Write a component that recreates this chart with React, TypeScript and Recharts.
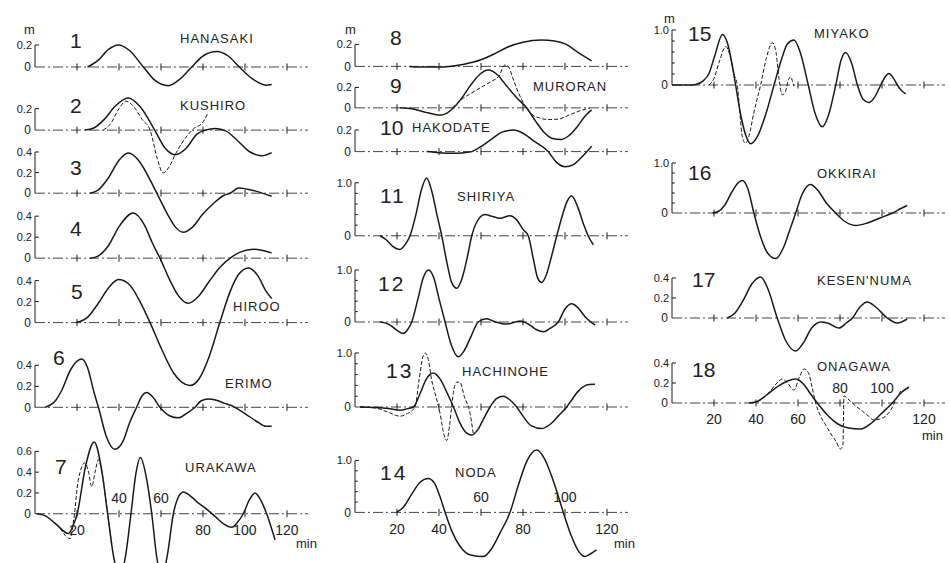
import React from 'react'
import { LineChart, Line, XAxis, YAxis, ReferenceLine } from 'recharts'

type Pt = [number, number] // [min, m]

// tide gauge traces: [time in min, height in m]
const hanasaki: Pt[] = [[25, 0], [30, 0.06], [35, 0.16], [39.7, 0.2], [45, 0.15], [51.6, 0], [57, -0.12], [63.5, -0.17], [69, -0.11], [74.6, 0], [80, 0.1], [86.5, 0.14], [92, 0.1], [97.3, 0], [103, -0.1], [110, -0.165], [112.7, -0.16]]
const kushiro: Pt[] = [[23.8, 0], [28, 0.02], [33, 0.1], [38, 0.22], [44.4, 0.3], [50, 0.22], [57, 0], [62, -0.17], [66.7, -0.23], [72, -0.17], [77, -0.04], [81, 0], [86, 0.015], [91, -0.01], [96, -0.09], [102, -0.2], [108, -0.24], [112.7, -0.21]]
const kushiroB: Pt[] = [[32.5, 0], [36, 0.06], [40, 0.2], [43.3, 0.27], [47, 0.22], [51, 0.1], [54.8, 0], [58, -0.25], [61, -0.4], [64, -0.34], [67, -0.22], [70, -0.12], [73, -0.04], [76, 0.02], [79.4, 0.06], [82.4, 0.16]]
const st3: Pt[] = [[26.2, 0], [30, 0.03], [35, 0.15], [40, 0.32], [44.4, 0.39], [50, 0.3], [54, 0.16], [58, 0], [63, -0.2], [66.5, -0.32], [70.6, -0.38], [75, -0.33], [80, -0.2], [85, -0.1], [90, -0.02], [92.9, 0], [97, 0.05], [105, 0.02], [112.7, -0.03]]
const st4: Pt[] = [[26.2, 0], [30, 0.02], [35, 0.12], [40, 0.3], [46.8, 0.43], [52, 0.32], [56, 0.14], [59.5, 0], [64, -0.2], [68, -0.35], [73, -0.43], [78, -0.36], [83, -0.22], [88, -0.09], [92.9, 0], [98, 0.06], [104, 0.085], [108, 0.075], [112.7, 0.05]]
const hiroo: Pt[] = [[19.8, 0], [25, 0.05], [30, 0.18], [35, 0.33], [39.7, 0.41], [45, 0.36], [50, 0.2], [54.8, 0], [60, -0.24], [66, -0.48], [70, -0.57], [73.8, -0.6], [78, -0.54], [83, -0.32], [88, 0], [93, 0.3], [97, 0.46], [101.6, 0.52], [106, 0.45], [110, 0.3], [112.7, 0.23]]
const erimo: Pt[] = [[4.8, 0], [10, 0.07], [12.7, 0.16], [17, 0.36], [22.2, 0.46], [25, 0.38], [28, 0.15], [30.2, 0], [34, -0.28], [38, -0.4], [42, -0.32], [45, -0.15], [48.4, 0], [51, 0.11], [53.2, 0.14], [56, 0.1], [59.5, 0], [64, -0.08], [68.2, -0.1], [72, -0.06], [76.2, 0], [79, 0.06], [82.5, 0.08], [86, 0.07], [90, 0.04], [95.2, 0], [100, -0.06], [106, -0.14], [110, -0.18], [112.7, -0.18]]
const urakawa: Pt[] = [[0.8, 0], [5, -0.02], [10, -0.1], [15.9, -0.19], [18, -0.12], [20.1, 0], [24, 0.45], [28.2, 0.69], [31.5, 0.45], [34.6, 0], [37.5, -0.42], [40.2, -0.6], [43, -0.42], [45.7, 0], [48, 0.38], [50.2, 0.54], [53, 0.35], [55.6, 0], [58, -0.42], [60.5, -0.6], [63, -0.4], [65.9, 0], [68.5, 0.17], [70.8, 0.21], [74, 0.17], [78, 0.1], [82, 0.04], [86, -0.03], [90, -0.1], [93.7, -0.13], [96.5, -0.08], [99.2, 0], [102, 0.13], [104.8, 0.2], [107.5, 0.13], [110.3, 0], [114.3, -0.25]]
const urakawaB: Pt[] = [[12, -0.14], [14.5, -0.21], [16.7, -0.24], [18.5, -0.05], [20.6, 0.32], [23.8, 0.49], [25.5, 0.4], [27, 0.26], [28.6, 0.4], [30.2, 0.52], [32, 0.38], [34.9, -0.05], [36.5, -0.3]]

const st8: Pt[] = [[26, 0], [30, -0.005], [40, -0.005], [45, 0], [52, 0.02], [60, 0.06], [66, 0.11], [72, 0.17], [80, 0.22], [88.7, 0.24], [95, 0.23], [100.6, 0.2], [106, 0.13], [112.7, 0.05]]
const muroran: Pt[] = [[21.4, 0], [27, -0.01], [33, -0.04], [38, -0.065], [41.3, -0.07], [44, -0.05], [46.9, 0], [51, 0.1], [55, 0.22], [59, 0.32], [63.5, 0.37], [68, 0.32], [72, 0.22], [77, 0.1], [81.7, 0], [86, -0.13], [90, -0.24], [94, -0.3], [98.4, -0.31], [102, -0.27], [106, -0.18], [110, -0.07], [112.7, -0.02]]
const muroranB: Pt[] = [[46.5, 0], [50, 0.07], [55, 0.14], [60, 0.2], [65, 0.26], [68.5, 0.31], [71.4, 0.42], [73.2, 0.4], [75, 0.3], [78, 0.14], [81, 0.02], [84, -0.06], [88, -0.1], [92, -0.115], [97, -0.11], [102, -0.07], [107, -0.03], [112, 0]]
const hakodate: Pt[] = [[34.1, 0], [40, -0.01], [46.8, -0.015], [52, -0.01], [55.6, 0], [61, 0.06], [66, 0.13], [70, 0.18], [75.4, 0.2], [80, 0.17], [85, 0.1], [92, 0], [96, -0.1], [100, -0.14], [104, -0.12], [108, -0.05], [112.7, 0.05]]
const shiriya: Pt[] = [[11.9, 0], [15, -0.08], [18, -0.2], [21.4, -0.26], [24, -0.16], [26.2, 0], [29, 0.4], [31.5, 0.85], [34.1, 1.09], [36.5, 0.85], [39, 0.4], [41.3, 0], [44, -0.55], [46, -0.88], [48.4, -0.99], [51, -0.8], [53.5, -0.4], [55.6, 0], [58, 0.26], [61.9, 0.4], [65, 0.37], [69, 0.33], [73.8, 0.38], [77, 0.3], [80, 0.12], [82.5, 0], [85, -0.45], [87, -0.8], [88.9, -0.88], [91, -0.75], [93.5, -0.4], [96.1, 0], [98.5, 0.35], [101, 0.65], [103.2, 0.75], [106, 0.55], [109, 0.2], [111, 0], [113.5, -0.17]]
const st12: Pt[] = [[11.9, 0], [16, -0.04], [20, -0.16], [23, -0.22], [25, -0.15], [27, 0], [30, 0.45], [32.5, 0.85], [35, 1.0], [37.5, 0.85], [40, 0.45], [42.9, 0], [45.5, -0.4], [49.2, -0.67], [52, -0.55], [55, -0.3], [58.7, 0], [62.7, 0.06], [67, 0], [72.2, -0.04], [78.6, 0.02], [83, -0.05], [86.5, -0.15], [89.7, -0.19], [93, -0.12], [96.8, 0], [100, 0.25], [103.2, 0.35], [106, 0.28], [110, 0.08], [114.3, -0.06]]
const hachinohe: Pt[] = [[2.4, 0], [10, -0.01], [16, -0.03], [21.4, -0.06], [25, -0.03], [27.8, 0], [31, 0.25], [34, 0.52], [37.3, 0.63], [40.5, 0.52], [44, 0.25], [46.9, 0], [50, -0.3], [53, -0.48], [55.6, -0.52], [58.5, -0.42], [61.5, -0.2], [64.3, 0], [67.5, 0.16], [70.6, 0.2], [73.8, 0.13], [77, 0], [80, -0.17], [84, -0.35], [88.9, -0.4], [93, -0.32], [97, -0.16], [100.8, 0], [103, 0.12], [106, 0.28], [109, 0.38], [111.5, 0.415], [114.3, 0.42]]
const hachinoheB: Pt[] = [[2.4, 0], [10, -0.02], [16, -0.1], [21.4, -0.17], [25, -0.12], [28.6, 0], [30.5, 0.5], [32.5, 0.95], [33.5, 1.0], [34.8, 0.9], [36.5, 0.5], [38.5, 0.2], [40.5, -0.12], [42.3, -0.5], [43.7, -0.62], [45, -0.35], [46, 0], [47, 0.3], [48.4, 0.46], [50, 0.46], [52, 0.2], [54.8, -0.12], [56.3, -0.49]]
const noda: Pt[] = [[19.8, 0], [23, 0.1], [27, 0.35], [31, 0.58], [34.9, 0.65], [38, 0.55], [40.5, 0.3], [42.9, 0], [46, -0.35], [50, -0.65], [55, -0.82], [61.1, -0.85], [65, -0.7], [69, -0.4], [73.8, 0], [78, 0.55], [82, 1.0], [86.5, 1.2], [90, 1.05], [94.5, 0.6], [99.2, 0], [103, -0.45], [106.5, -0.75], [109.5, -0.85], [112, -0.8], [115, -0.72]]

const miyako: Pt[] = [[0, 0], [8, 0], [11.3, 0.01], [15, 0.08], [17.6, 0.21], [20.5, 0.55], [24, 0.92], [26.5, 0.75], [28.5, 0.4], [30.3, 0], [32.5, -0.5], [35, -0.9], [37.5, -1.07], [40.5, -0.95], [44.5, -0.55], [48.6, 0], [52, 0.45], [55, 0.75], [58.1, 0.82], [61, 0.6], [64.9, 0], [68, -0.5], [71.6, -0.76], [74.5, -0.55], [78, 0], [80.5, 0.45], [82.7, 0.59], [85.5, 0.4], [88.3, 0], [91, -0.26], [93.8, -0.32], [96.5, -0.22], [99.4, 0], [101.5, 0.15], [103.3, 0.21], [105.5, 0.12], [107.3, 0], [109.5, -0.11], [111.3, -0.16]]
const miyakoB: Pt[] = [[17.6, 0], [20, 0.12], [22.5, 0.42], [25.6, 0.7], [27.5, 0.55], [29.5, 0.2], [31.1, 0], [32.3, -0.5], [33.5, -0.95], [35, -1.06], [36.5, -0.95], [39, -0.5], [42.2, 0], [45, 0.5], [47.8, 0.77], [49.5, 0.6], [51, 0.1], [52.5, -0.18], [54, -0.12], [55.5, 0.1], [56.5, 0.15], [57.3, 0.08], [58, -0.02]]
const okkirai: Pt[] = [[19.3, 0], [22, 0.03], [25, 0.15], [28, 0.38], [31, 0.58], [33.5, 0.65], [36, 0.5], [39, 0], [42, -0.45], [45.5, -0.8], [49.4, -0.91], [53, -0.7], [56, -0.35], [58.9, 0], [62, 0.38], [66, 0.57], [69.5, 0.45], [73.5, 0.2], [77.9, 0], [82, -0.16], [87.5, -0.25], [93, -0.2], [99, -0.1], [105, 0], [109, 0.09], [112, 0.15]]
const kesennuma: Pt[] = [[26.3, 0], [30, 0.05], [34, 0.18], [38, 0.34], [42.2, 0.41], [45.5, 0.3], [50.1, 0], [54, -0.22], [58.9, -0.33], [62.5, -0.25], [66.5, -0.1], [71, -0.04], [74, -0.05], [79.5, -0.1], [83, -0.05], [85.9, 0], [89.5, 0.11], [93, 0.16], [97, 0.11], [102.5, 0], [107.3, -0.05], [112, -0.01]]
const onagawa: Pt[] = [[36.7, 0], [40, 0.01], [45, 0.08], [50, 0.16], [55, 0.22], [58.9, 0.24], [63, 0.18], [66, 0.09], [69.2, 0], [74, -0.12], [79, -0.21], [84, -0.25], [89.8, -0.26], [95, -0.2], [100, -0.1], [104.9, 0], [109, 0.1], [112.8, 0.16]]
const onagawaB: Pt[] = [[38, 0], [42, 0.03], [46, 0.1], [50, 0.2], [52.5, 0.24], [55, 0.2], [58.1, 0.13], [60.5, 0.25], [62.9, 0.34], [65, 0.3], [66.8, 0.15], [68.4, 0], [70.5, -0.12], [73.2, -0.22], [76, -0.32], [78, -0.38], [80.2, -0.46], [81.4, -0.42], [81.9, 0.07], [84.3, 0.03], [87.5, -0.03], [90.6, -0.08], [93.5, -0.13], [96.2, -0.17], [99, -0.16], [101.8, -0.13], [104.5, -0.06], [106.5, 0.03], [108.9, 0.12]]

const minTicks = [20, 40, 60, 80, 100, 120]
const minorTicks = [0.2, 0.4, 0.6, 0.8]

type Side = 'top' | 'bottom'
type PanelDef = {
  no: string
  name: string
  x0: number // px of t = 0
  y0: number // px of baseline
  k: number // px per metre
  solid: Pt[]
  dashed?: Pt[]
  yt: number[]
  minor?: boolean
  num: [number, number]
  lab: [number, number]
  xl?: Side[]
}

const C1 = 35
const C2 = 355
const C3 = 672

const panels: PanelDef[] = [
  { no: '1', name: 'HANASAKI', x0: C1, y0: 66.7, k: 110, solid: hanasaki, yt: [0.2], num: [70, 43], lab: [180, 40] },
  { no: '2', name: 'KUSHIRO', x0: C1, y0: 130, k: 107, solid: kushiro, dashed: kushiroB, yt: [0.2], num: [70, 108], lab: [180, 107] },
  { no: '3', name: '', x0: C1, y0: 193.3, k: 103, solid: st3, yt: [0.2, 0.4], num: [70, 170], lab: [0, 0] },
  { no: '4', name: '', x0: C1, y0: 258.3, k: 105, solid: st4, yt: [0.2, 0.4], num: [70, 231], lab: [0, 0] },
  { no: '5', name: 'HIROO', x0: C1, y0: 322.3, k: 105, solid: hiroo, yt: [0.2, 0.4], num: [71, 294], lab: [233, 308] },
  { no: '6', name: 'ERIMO', x0: C1, y0: 407.3, k: 105, solid: erimo, yt: [0.2, 0.4], num: [53, 360], lab: [225, 385] },
  { no: '7', name: 'URAKAWA', x0: C1, y0: 513.3, k: 104, solid: urakawa, dashed: urakawaB, yt: [0.2, 0.4, 0.6], num: [55, 469], lab: [185, 469], xl: ['bottom', 'top', 'top', 'bottom', 'bottom', 'bottom'] },
  { no: '8', name: '', x0: C2, y0: 66.7, k: 110, solid: st8, yt: [0.2], num: [390, 40], lab: [0, 0] },
  { no: '9', name: 'MURORAN', x0: C2, y0: 108.3, k: 102, solid: muroran, dashed: muroranB, yt: [0.2], num: [390, 88], lab: [533, 88] },
  { no: '10', name: 'HAKODATE', x0: C2, y0: 151.7, k: 108, solid: hakodate, yt: [0.2], num: [380, 130], lab: [412, 129] },
  { no: '11', name: 'SHIRIYA', x0: C2, y0: 236, k: 53, solid: shiriya, yt: [1.0], minor: true, num: [380, 198], lab: [457, 198] },
  { no: '12', name: '', x0: C2, y0: 321.7, k: 52, solid: st12, yt: [1.0], minor: true, num: [378, 286], lab: [0, 0] },
  { no: '13', name: 'HACHINOHE', x0: C2, y0: 406.7, k: 54, solid: hachinohe, dashed: hachinoheB, yt: [1.0], minor: true, num: [386, 373], lab: [462, 373] },
  { no: '14', name: 'NODA', x0: C2, y0: 512.3, k: 52, solid: noda, yt: [1.0], minor: true, num: [380, 475], lab: [455, 474], xl: ['bottom', 'bottom', 'top', 'bottom', 'top', 'bottom'] },
  { no: '15', name: 'MIYAKO', x0: C3, y0: 85, k: 55, solid: miyako, dashed: miyakoB, yt: [1.0], minor: true, num: [688, 36], lab: [814, 35] },
  { no: '16', name: 'OKKIRAI', x0: C3, y0: 212.7, k: 50, solid: okkirai, yt: [1.0], minor: true, num: [688, 175], lab: [817, 175] },
  { no: '17', name: "KESEN'NUMA", x0: C3, y0: 318.3, k: 100, solid: kesennuma, yt: [0.2, 0.4], num: [692, 282], lab: [817, 282] },
  { no: '18', name: 'ONAGAWA', x0: C3, y0: 403.3, k: 100, solid: onagawa, dashed: onagawaB, yt: [0.2, 0.4], num: [692, 372], lab: [817, 368], xl: ['bottom', 'bottom', 'bottom', 'top', 'top', 'bottom'] },
]

const PX_PER_MIN = 2.1
const ML = 36
const MR = 4
const MT = 10
const MB = 28
const INK = '#1a1a1a'
const txt = { fontSize: 11, fill: '#222' }

const rows = (pts: Pt[]) => pts.map(([t, v]) => ({ t, v }))

function Panel({ p }: { p: PanelDef }) {
  const vals = [...p.solid, ...(p.dashed ?? [])].map(d => d[1])
  const hi = Math.max(...vals, ...p.yt, 0) + 8 / p.k
  const lo = Math.min(...vals, 0) - 8 / p.k
  const w = ML + 130 * PX_PER_MIN + MR
  const h = MT + (hi - lo) * p.k + MB
  const tick = 3.5 / p.k
  const yTop = Math.max(...p.yt)
  const stub = 4 / PX_PER_MIN

  return (
    <div style={{ position: 'absolute', left: p.x0 - ML, top: p.y0 - hi * p.k - MT }}>
      <LineChart width={w} height={h} margin={{ top: MT, right: MR, bottom: MB, left: ML }}>
        <XAxis type="number" dataKey="t" domain={[0, 130]} hide />
        <YAxis type="number" domain={[lo, hi]} hide />
        <ReferenceLine
          segment={[{ x: 0, y: 0 }, { x: 130, y: 0 }]}
          stroke="#444"
          strokeWidth={1}
          strokeDasharray="10 3 2 3"
          label={{ value: '0', position: 'left', offset: 4, fontSize: 12, fill: '#222' }}
        />
        <ReferenceLine segment={[{ x: 0, y: 0 }, { x: 0, y: yTop }]} stroke={INK} strokeWidth={1} />
        {p.yt.map(v => (
          <ReferenceLine
            key={'y' + v}
            segment={[{ x: 0, y: v }, { x: stub, y: v }]}
            stroke={INK}
            label={{ value: v.toFixed(1), position: 'left', offset: 3, ...txt }}
          />
        ))}
        {p.minor &&
          minorTicks.map(v => (
            <ReferenceLine key={'m' + v} segment={[{ x: 0, y: v }, { x: stub * 0.7, y: v }]} stroke={INK} />
          ))}
        {minTicks.map((t, i) => (
          <ReferenceLine
            key={'x' + t}
            segment={[{ x: t, y: -tick }, { x: t, y: tick }]}
            stroke={INK}
            label={p.xl ? { value: String(t), position: p.xl[i], offset: p.xl[i] === 'top' ? 7 : 8, fontSize: 14, fill: '#222' } : undefined}
          />
        ))}
        {p.dashed && (
          <Line
            data={rows(p.dashed)}
            dataKey="v"
            type="monotone"
            dot={false}
            stroke={INK}
            strokeWidth={1}
            strokeDasharray="4 2"
            isAnimationActive={false}
          />
        )}
        <Line
          data={rows(p.solid)}
          dataKey="v"
          type="monotone"
          dot={false}
          stroke={INK}
          strokeWidth={1.5}
          isAnimationActive={false}
        />
      </LineChart>
    </div>
  )
}

const abs = (x: number, y: number, size: number): React.CSSProperties => ({
  position: 'absolute',
  left: x,
  top: y - size * 0.6,
  fontSize: size,
  lineHeight: 1,
  whiteSpace: 'nowrap',
})

export default function App() {
  return (
    <div
      style={{
        position: 'absolute',
        left: 0,
        top: 0,
        width: 950,
        height: 563,
        overflow: 'hidden',
        background: '#fff',
        color: '#222',
        fontFamily: '"Liberation Sans", Arial, sans-serif',
      }}
    >
      {panels.map(p => (
        <Panel key={p.no} p={p} />
      ))}
      {panels.map(p => {
        const spaced = ['11', '12', '13', '14'].includes(p.no)
        return (
          <React.Fragment key={'t' + p.no}>
            <span style={{ ...abs(p.num[0], p.num[1], 21), letterSpacing: spaced ? 2 : 0 }}>{p.no}</span>
            {p.name && <span style={{ ...abs(p.lab[0], p.lab[1], 13), letterSpacing: 1 }}>{p.name}</span>}
          </React.Fragment>
        )
      })}
      <span style={abs(24, 31, 13)}>m</span>
      <span style={abs(345, 31, 13)}>m</span>
      <span style={abs(664, 20, 13)}>m</span>
      <span style={abs(296, 545, 13)}>min</span>
      <span style={abs(614, 545, 13)}>min</span>
      <span style={abs(922, 437, 13)}>min</span>
    </div>
  )
}
